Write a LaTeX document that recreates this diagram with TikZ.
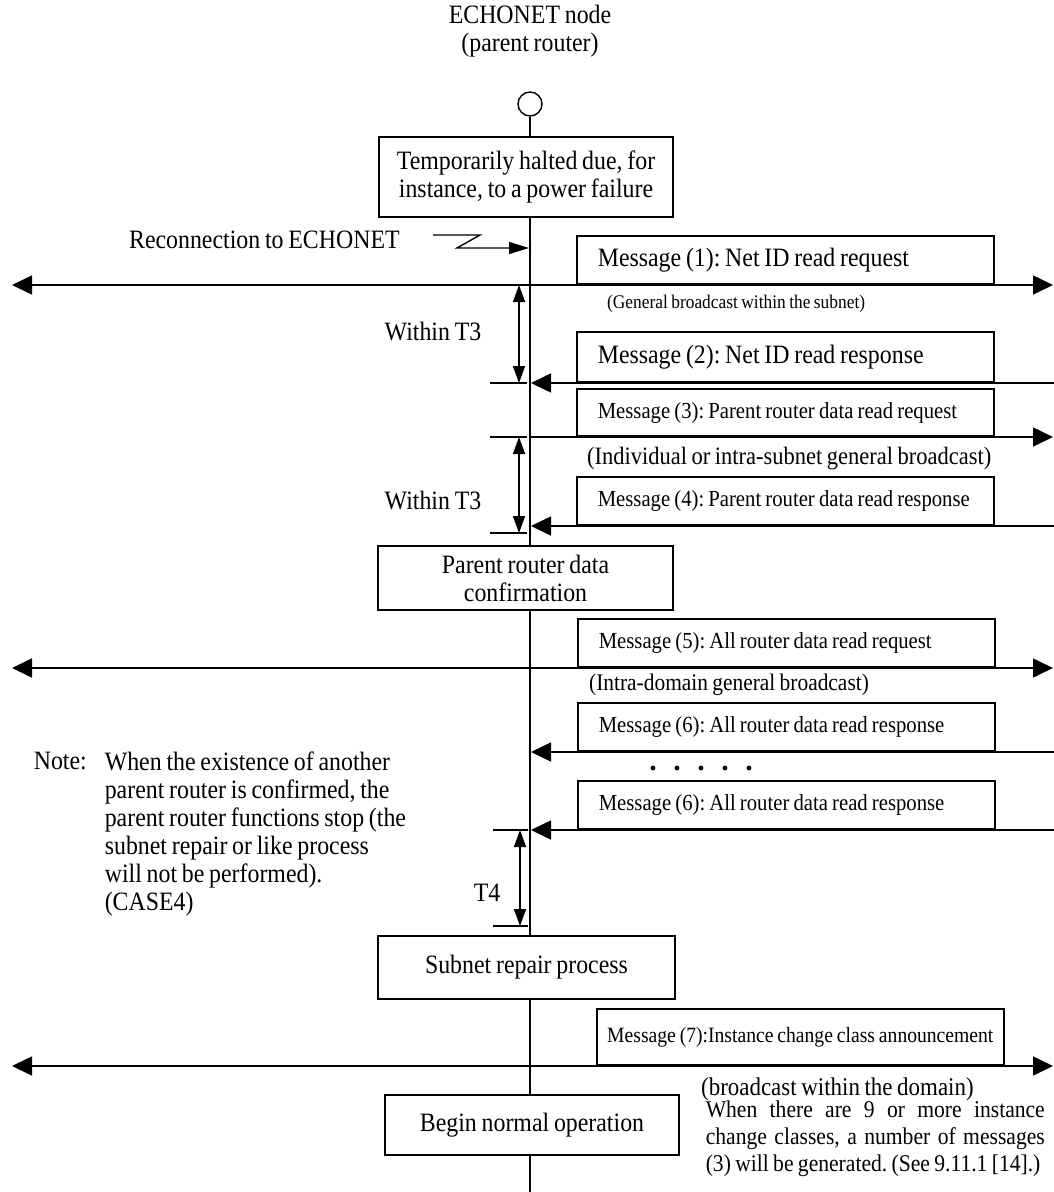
\documentclass[tikz,border=0pt]{standalone}
\usepackage{fontspec}
\setmainfont[FakeStretch=0.9, WordSpace=0.8]{Liberation Serif}
\usetikzlibrary{arrows.meta, positioning, calc}
\frenchspacing

\begin{document}
\begin{tikzpicture}[x=1pt, y=-1pt, line width=1.6pt,
  big/.style={font=\fontsize{26.5}{28}\selectfont},
  mid/.style={font=\fontsize{23}{24}\selectfont},
  sml/.style={font=\fontsize{19.3}{21}\selectfont},
  procbox/.style={draw, big, align=center, inner sep=0pt},
  msgbox/.style={draw, anchor=south west, text width=375pt, inner xsep=21pt, inner ysep=0pt,
                 minimum height=48pt, align=flush left},
  bcast/.style={arrows={Triangle[length=20pt,width=19pt]-Triangle[length=20pt,width=19pt]}},
  req/.style={arrows={-Triangle[length=20pt,width=19pt]}},
  resp/.style={arrows={-Triangle[length=20pt,width=19pt]}},
  span/.style={arrows={Triangle[length=17pt,width=12pt]-Triangle[length=17pt,width=12pt]}},
  zig/.style={arrows={-Triangle[length=20pt,width=12pt]}},
]
  \useasboundingbox (0,0) rectangle (1054,1192);
  \def\lx{530}

  % node, lifeline boxes
  \node[big, align=center] (title) at (\lx,31) {ECHONET node\\(parent router)};
  \node[draw, circle, minimum size=24pt, inner sep=0pt, line width=1.4pt] (top) at (\lx,104) {};
  \node[procbox, minimum width=294pt, minimum height=80pt] (halt) at (526,177) {Temporarily halted due, for\\instance, to a power failure};
  \node[procbox, minimum width=295pt, minimum height=64pt] (conf) at (525.5,578) {Parent router data\\confirmation};
  \node[procbox, minimum width=297pt, minimum height=63pt] (repair) at (526.5,967.5) {Subnet repair process};
  \node[procbox, minimum width=294pt, minimum height=60pt] (normal) at (532,1125) {Begin normal operation};
  \coordinate (bottom) at (\lx,1192);

  \draw (top) -- (top |- halt.north);
  \draw (top |- halt.south) -- (top |- conf.north);
  \draw (top |- conf.south) -- (top |- repair.north);
  \draw (top |- repair.south) -- (top |- normal.north);
  \draw (top |- normal.south) -- (bottom);

  % reconnection
  \node[big, anchor=west] (recon) at (125,240) {Reconnection to ECHONET};
  \coordinate (z0) at (433,235);
  \coordinate (l0) at (529,248);
  \draw[zig, line width=1.4pt] (z0) -- ++(47,0) -- ++(-23,13) -- (l0);

  % message (1), (2)
  \coordinate (w1) at (12,285);
  \coordinate (e1) at (1053,285);
  \draw[bcast] (w1) -- (e1);
  \node[msgbox, big] (m1) at (576,285) {Message (1): Net ID read request};
  \node[sml, anchor=west] (b1) at (603,304) {(General broadcast within the subnet)};

  \coordinate (r2) at (1054,383);
  \coordinate (l2) at (531,383);
  \draw[resp] (r2) -- (l2);
  \node[msgbox, big, minimum height=50pt] (m2) at (576,383) {Message (2): Net ID read response};

  \coordinate (s1a) at (519,285);
  \coordinate (s1b) at (519,383);
  \draw[span] (s1a) -- (s1b);
  \draw ([xshift=-29pt]s1b) -- ([xshift=8pt]s1b);
  \node[big] (t3a) at (433,332) {Within T3};

  % message (3), (4)
  \coordinate (l3) at (\lx,437);
  \coordinate (e3) at (1053,437);
  \draw[req] (l3) -- (e3);
  \node[msgbox, mid, minimum height=47pt] (m3) at (576,437) {Message (3): Parent router data read request};
  \node[font=\fontsize{25}{26}\selectfont, anchor=west] (b3) at (583,459) {(Individual or intra-subnet general broadcast)};

  \coordinate (r4) at (1054,526);
  \coordinate (l4) at (531,526);
  \draw[resp] (r4) -- (l4);
  \node[msgbox, mid] (m4) at (576,526) {Message (4): Parent router data read response};

  \coordinate (s2a) at (519,437);
  \coordinate (s2b) at (519,533);
  \draw[span] (s2a) -- (s2b);
  \draw ([xshift=-29pt]s2a) -- ([xshift=8pt]s2a);
  \draw ([xshift=-29pt]s2b) -- ([xshift=8pt]s2b);
  \node[big] (t3b) at (433,500) {Within T3};

  % message (5), (6)
  \coordinate (w5) at (12,668);
  \coordinate (e5) at (1053,668);
  \draw[bcast] (w5) -- (e5);
  \node[msgbox, mid] (m5) at (577,668) {Message (5): All router data read request};
  \node[font=\fontsize{23.8}{25}\selectfont, anchor=west] (b5) at (585,685) {(Intra-domain general broadcast)};

  \coordinate (r6) at (1054,752);
  \coordinate (l6) at (531,752);
  \draw[resp] (r6) -- (l6);
  \node[msgbox, mid] (m6) at (577,752) {Message (6): All router data read response};

  \foreach \i in {0,...,4}
    \fill (653+24*\i,768) circle (2.4pt);

  \coordinate (r7) at (1054,830);
  \coordinate (l7) at (531,830);
  \draw[resp] (r7) -- (l7);
  \node[msgbox, mid] (m6b) at (577,830) {Message (6): All router data read response};

  \coordinate (s3a) at (520,830);
  \coordinate (s3b) at (520,926);
  \draw[span] (s3a) -- (s3b);
  \draw ([xshift=-27pt]s3a) -- ([xshift=8pt]s3a);
  \draw ([xshift=-27pt]s3b) -- ([xshift=8pt]s3b);
  \node[big] (t4) at (487,893) {T4};

  % note
  \node[big, anchor=north west, inner sep=0pt] (notehd) at (33,751) {Note:};
  \node[big, anchor=north west, inner sep=0pt, align=left] (notetx) at (104,751)
    {When the existence of another\\parent router is confirmed, the\\parent router functions stop (the\\subnet repair or like process\\will not be performed).\\(CASE4)};

  % message (7)
  \coordinate (w8) at (12,1066);
  \coordinate (e8) at (1053,1066);
  \draw[bcast] (w8) -- (e8);
  \node[msgbox, font=\fontsize{21.8}{23}\selectfont, text width=397pt, inner xsep=5pt, minimum height=56pt, align=flush center] (m7) at (596,1066) {Message (7):Instance change class announcement};
  \node[font=\fontsize{25.5}{27}\selectfont, anchor=west] (b7) at (697,1089) {(broadcast within the domain)};

  \node[anchor=north west, inner sep=0pt, text width=339pt, align=justify,
        font=\fontsize{24}{27}\selectfont] (note2) at (705,1100)
    {When there are 9 or more instance\linebreak change classes, a number of messages\linebreak (3) will be generated. (See 9.11.1 [14].)};
\end{tikzpicture}
\end{document}
